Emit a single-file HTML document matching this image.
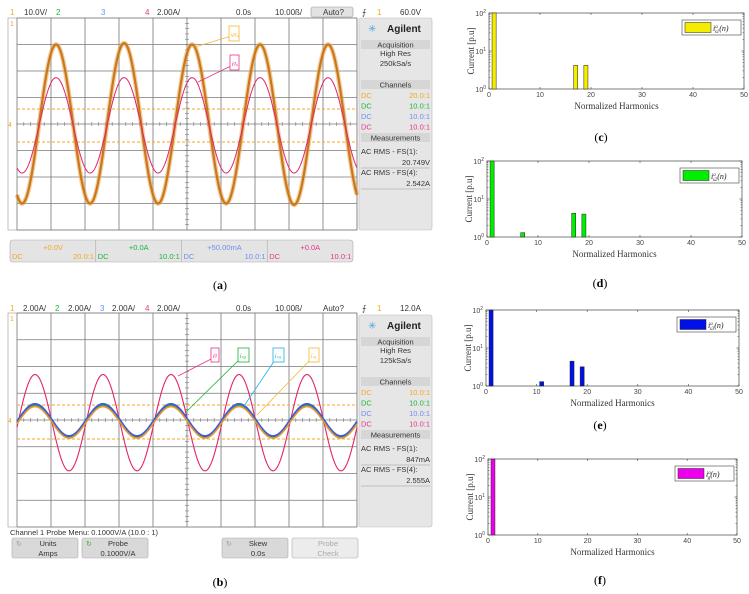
<!DOCTYPE html>
<html><head><meta charset="utf-8"><style>
body{margin:0;background:#fff}
svg{display:block}
text{font-family:"Liberation Sans",sans-serif}
.serif{font-family:"Liberation Serif",serif}
</style></head><body>
<svg id="fig" width="749" height="594" viewBox="0 0 749 594" xmlns="http://www.w3.org/2000/svg">
<rect width="749" height="594" fill="#fff"/>
<g id="scopeA"></g>
<g id="scopeB"></g>
<g id="bars"></g>
</svg>
<script>
// ---- data ----
const scopeTimesA0 = -48.5; // ms, first extremum time (a)
const scopeVoltA = [-30, 30, -30, 30.5, -30, 30, -30, 30, -30.5, 30, -30];
const scopeCurA = [-3.7, 3.5, -3.7, 3.5, -3.7, 3.5, -3.7, 3.5, -3.7, 3.5, -3.7];
const scopeTimesB0 = -54.7;
const scopeGridB = [-3.8, 3.4, -3.8, 3.4, -3.8, 3.4, -3.8, 3.4, -3.8, 3.4, -3.8, 3.4];
const scopeSa1B = [-1.35, 1.0, -1.35, 1.0, -1.35, 1.0, -1.35, 1.0, -1.35, 1.0, -1.35, 1.0];
const scopeSa2B = [-1.3, 1.05, -1.3, 1.05, -1.3, 1.05, -1.3, 1.05, -1.3, 1.05, -1.3, 1.05];
const scopeSa3B = [-1.2, 1.2, -1.2, 1.2, -1.2, 1.2, -1.2, 1.2, -1.2, 1.2, -1.2, 1.2];

const harmC_n = [1, 17, 19];      const harmC_v = [100, 4.2, 4.2];
const harmD_n = [1, 7, 17, 19];   const harmD_v = [100, 1.3, 4.2, 4.0];
const harmE_n = [1, 11, 17, 19];  const harmE_v = [100, 1.3, 4.5, 3.2];
const harmF_n = [1];              const harmF_v = [100];
const xTicks = [0, 10, 20, 30, 40, 50];
const yTickExp = [0, 1, 2];

const NS = "http://www.w3.org/2000/svg";
function el(parent, tag, attrs, txt){
  const e = document.createElementNS(NS, tag);
  for (const k in attrs) e.setAttribute(k, attrs[k]);
  if (txt !== undefined) e.textContent = txt;
  parent.appendChild(e);
  return e;
}

const OR = "#f5a623", GR = "#1bb33a", BL = "#6f8ff0", PK = "#e8348a";

function scope(g, o){
  const L=17, R=357, T=o.top, B=o.bot, cy=(T+B)/2, dx=(R-L)/10, dy=(B-T)/8;
  // header
  const hy = o.hy;
  const hdr = o.header;
  hdr.forEach(h=>{
    const t = el(g,'text',{x:h[0],y:hy,'font-size':8,fill:h[2]||'#333'},h[1]);
    
    
  });
  // display area
  const disp = el(g,'rect',{x:8,y:T,width:R-8,height:B-T,fill:'#fff',stroke:'#999','stroke-width':0.6});
  
  
  for(let i=0;i<=10;i++) el(g,'line',{x1:L+i*dx,y1:T,x2:L+i*dx,y2:B,stroke:'#777','stroke-width':0.8});
  for(let j=0;j<=8;j++) el(g,'line',{x1:L,y1:T+j*dy,x2:R,y2:T+j*dy,stroke:'#777','stroke-width':0.8});
  for(let i=0;i<50;i++){ const x=L+i*dx/5; el(g,'line',{x1:x,y1:cy-2,x2:x,y2:cy+2,stroke:'#777','stroke-width':0.6}); }
  for(let j=0;j<40;j++){ const y=T+j*dy/5; el(g,'line',{x1:187-2,y1:y,x2:187+2,y2:y,stroke:'#777','stroke-width':0.6}); }
  o.dashes.forEach(y=>el(g,'line',{x1:L,y1:y,x2:R,y2:y,stroke:OR,'stroke-width':0.9,'stroke-dasharray':'3,2'}));
  el(g,'text',{x:10,y:T+8,'font-size':7,fill:OR},'1');
  el(g,'text',{x:8,y:cy+3,'font-size':7,fill:OR},'4');
  // traces
  const tx = t => 187 + t/10*dx;
  o.traces.forEach(tr=>{
    let d='';
    for(let px=L; px<=R; px+=0.5){
      const t=(px-187)/dx*10;
      let i=Math.floor((t-o.t0)/10); i=Math.max(0,Math.min(tr.vals.length-2,i));
      const ti=o.t0+i*10, a=tr.vals[i], b=tr.vals[i+1];
      const v=(a+b)/2+(a-b)/2*Math.cos(Math.PI*(t-ti)/10);
      const y=cy - v/tr.scale*dy;
      d+=(d?'L':'M')+px.toFixed(1)+','+y.toFixed(1);
    }
    if(tr.halo){ const h=el(g,'path',{d,fill:'none',stroke:tr.halo,'stroke-width':tr.w+2.5,opacity:0.55});   }
    const p=el(g,'path',{d,fill:'none',stroke:tr.color,'stroke-width':tr.w});
    
    
  });
  // annotations
  o.notes.forEach(n=>{
    el(g,'line',{x1:n.x+4,y1:n.y+n.h/2+2,x2:n.ax,y2:n.ay,stroke:n.c,'stroke-width':0.8});
    const b=el(g,'rect',{x:n.x,y:n.y,width:n.w,height:n.h,fill:'#fff',stroke:n.c,'stroke-width':0.8});
    
    
    el(g,'text',{x:n.x+2,y:n.y+n.h-4,'font-size':6,fill:n.c,'font-style':'italic'},n.t);
  });
  // right panel
  const P=359, PW=73;
  const pnl=el(g,'rect',{x:P,y:o.pTop,width:PW,height:B-o.pTop,fill:'#e6e6e6',stroke:'#bbb','stroke-width':0.6,rx:2});
  
  
  let y=o.pTop;
  el(g,'text',{x:368,y:y+14,'font-size':10,fill:'#4aa8e0'},'✳');
  el(g,'text',{x:387,y:y+14,'font-size':10,'font-weight':'bold',fill:'#222'},'Agilent');
  const sec=(yy,label)=>{ el(g,'rect',{x:P+2,y:yy,width:PW-4,height:9,fill:'#d6d6d6'}); el(g,'text',{x:P+PW/2,y:yy+7.5,'font-size':7.5,'text-anchor':'middle',fill:'#333'},label); };
  sec(o.pTop+22,'Acquisition');
  el(g,'text',{x:P+PW/2,y:o.pTop+38,'font-size':7.5,'text-anchor':'middle',fill:'#333'},'High Res');
  el(g,'text',{x:P+PW/2,y:o.pTop+48,'font-size':7.5,'text-anchor':'middle',fill:'#333'},o.rate);
  sec(o.pTop+62,'Channels');
  const cr=[[OR,o.ratios[0]],[GR,'10.0:1'],[BL,'10.0:1'],[PK,'10.0:1']];
  cr.forEach((c,i)=>{ el(g,'text',{x:361,y:o.pTop+80+i*10.5,'font-size':7.5,fill:c[0]},'DC'); el(g,'text',{x:430,y:o.pTop+80+i*10.5,'font-size':7.5,'text-anchor':'end',fill:c[0]},c[1]); });
  sec(o.pTop+115,'Measurements');
  el(g,'text',{x:361,y:o.pTop+136,'font-size':7.5,fill:'#333'},'AC RMS - FS(1):');
  el(g,'text',{x:430,y:o.pTop+147,'font-size':7.5,'text-anchor':'end',fill:'#333'},o.m1);
  el(g,'text',{x:361,y:o.pTop+157,'font-size':7.5,fill:'#333'},'AC RMS - FS(4):');
  el(g,'text',{x:430,y:o.pTop+168,'font-size':7.5,'text-anchor':'end',fill:'#333'},o.m2);
  el(g,'line',{x1:361,y1:o.pTop+150,x2:430,y2:o.pTop+150,stroke:'#999','stroke-width':0.5});
  el(g,'line',{x1:361,y1:o.pTop+171,x2:430,y2:o.pTop+171,stroke:'#999','stroke-width':0.5});
  // caption
  const cap=el(g,'text',{x:220,y:o.cap,'font-size':12,'text-anchor':'middle',class:'serif',fill:'#000'},'');
  cap.innerHTML='(<tspan font-weight="bold">'+o.letter+'</tspan>)';
  
  
}

// ===== scope (a) =====
const gA=document.getElementById('scopeA');
scope(gA,{top:18,bot:230,hy:15,pTop:18,cap:289,letter:'a',rate:'250kSa/s',ratios:['20.0:1'],m1:'20.749V',m2:'2.542A',
  t0:scopeTimesA0,dashes:[109,142],
  header:[[10,'1',OR],[24,'10.0V/'],[56,'2',GR],[101,'3',BL],[145,'4',PK],[157,'2.00A/'],[236,'0.0s'],[275,'10.00ß/'],[323,'Auto?'],[362,'⨍'],[377,'1',OR],[400,'60.0V']],
  traces:[{name:'voltage-trace-vs',vals:scopeVoltA,scale:10,color:'#c9771a',halo:'#e8a552',w:2.2},
          {name:'current-trace-ig',vals:scopeCurA,scale:2,color:'#e0246e',w:1}],
  notes:[{x:229,y:26,w:10,h:15,c:'#f2b732',t:'vᵍₛ',ax:195,ay:47},{x:230,y:55,w:9,h:15,c:PK,t:'iᵍₛ',ax:198,ay:82}]});
el(gA,'rect',{x:311,y:7,width:42,height:10,fill:'#e2e2e2',stroke:'#999','stroke-width':0.6,rx:2});

gA.appendChild(gA.querySelectorAll('text')[8]);
// bottom bar (a)
const bb=el(gA,'rect',{x:10,y:240,width:343,height:22,fill:'#e4e4e4',stroke:'#aaa','stroke-width':0.6,rx:3});


[[OR,'+0.0V','20.0:1'],[GR,'+0.0A','10.0:1'],[BL,'+50.00mA','10.0:1'],[PK,'+0.0A','10.0:1']].forEach((c,i)=>{
  const x=10+i*85.75;
  if(i) el(gA,'line',{x1:x,y1:240,x2:x,y2:262,stroke:'#aaa','stroke-width':0.6});
  el(gA,'text',{x:x+43,y:250,'font-size':7.5,'text-anchor':'middle',fill:c[0]},c[1]);
  el(gA,'text',{x:x+2,y:259,'font-size':7.5,fill:c[0]},'DC');
  el(gA,'text',{x:x+84,y:259,'font-size':7.5,'text-anchor':'end',fill:c[0]},c[2]);
});

// ===== scope (b) =====
const gB=document.getElementById('scopeB');
scope(gB,{top:313,bot:527,hy:311,pTop:315,cap:586,letter:'b',rate:'125kSa/s',ratios:['10.0:1'],m1:'847mA',m2:'2.555A',
  t0:scopeTimesB0,dashes:[405,439],
  header:[[10,'1',OR],[23,'2.00A/'],[55,'2',GR],[68,'2.00A/'],[100,'3',BL],[112,'2.00A/'],[145,'4',PK],[157,'2.00A/'],[236,'0.0s'],[275,'10.00ß/'],[323,'Auto?'],[362,'⨍'],[377,'1',OR],[400,'12.0A']],
  traces:[{name:'grid-current-trace',vals:scopeGridB,scale:2,color:'#e0246e',w:1.1},
          {name:'sa2-current-trace',vals:scopeSa2B,scale:2,color:'#2aa64a',w:2},
          {name:'sa3-current-trace',vals:scopeSa3B,scale:2,color:'#3c5fd8',w:2},
          {name:'sa1-current-trace',vals:scopeSa1B,scale:2,color:'#e79a2a',w:1.6}],
  notes:[{x:211,y:348,w:8,h:14,c:PK,t:'iᵍ',ax:178,ay:376},{x:238,y:348,w:11,h:14,c:GR,t:'iₛ₂',ax:186,ay:412},
         {x:273,y:348,w:11,h:14,c:'#23b0e0',t:'iₛ₃',ax:244,ay:406},{x:309,y:348,w:10,h:14,c:'#f2b732',t:'iₛ₁',ax:257,ay:415}]});
el(gB,'text',{x:10,y:535,'font-size':7.5,fill:'#333'},'Channel 1 Probe Menu: 0.1000V/A (10.0 : 1)');
[[12,'Units','Amps',1],[82,'Probe','0.1000V/A',1],[222,'Skew','0.0s',1],[292,'Probe','Check',0]].forEach(b=>{
  const r=el(gB,'rect',{x:b[0],y:538,width:66,height:20,fill:b[3]?'#d9d9d9':'#ececec',stroke:'#aaa','stroke-width':0.6,rx:2});
  
  
  const c=b[3]?'#333':'#aaa';
  el(gB,'text',{x:b[0]+36,y:546,'font-size':7.5,'text-anchor':'middle',fill:c},b[1]);
  el(gB,'text',{x:b[0]+36,y:556,'font-size':7.5,'text-anchor':'middle',fill:c},b[2]);
  if(b[3]) el(gB,'text',{x:b[0]+4,y:546,'font-size':7,fill:b[0]==82?'#3a3':'#999'},'↻');
});

// ===== bar charts =====
const gBars=document.getElementById('bars');
function barChart(o){
  const g=el(gBars,'g',{});
  
  
  const xs=n=>o.l+n/50*(o.r-o.l);
  const ys=v=>o.b-Math.log10(v)/2*(o.b-o.t);
  el(g,'rect',{x:o.l,y:o.t,width:o.r-o.l,height:o.b-o.t,fill:'#fff',stroke:'#444','stroke-width':0.7});
  o.ns.forEach((n,i)=>{
    const bar=el(g,'rect',{x:xs(n-0.4),y:ys(o.vs[i]),width:xs(0.8)-xs(0),height:o.b-ys(o.vs[i]),fill:o.c,stroke:'#222','stroke-width':0.5});
    
    
  });
  xTicks.forEach(v=>{
    const x=xs(v);
    el(g,'line',{x1:x,y1:o.b,x2:x,y2:o.b-2,stroke:'#444','stroke-width':0.6});
    el(g,'line',{x1:x,y1:o.t,x2:x,y2:o.t+2,stroke:'#444','stroke-width':0.6});
    el(g,'text',{x:x,y:o.b+8,'font-size':7,'text-anchor':'middle',fill:'#444'},String(v));
  });
  yTickExp.forEach(e=>{
    const y=ys(Math.pow(10,e));
    el(g,'line',{x1:o.l,y1:y,x2:o.l+2.5,y2:y,stroke:'#444','stroke-width':0.6});
    el(g,'line',{x1:o.r,y1:y,x2:o.r-2.5,y2:y,stroke:'#444','stroke-width':0.6});
    const t=el(g,'text',{x:o.l-3,y:y+3,'font-size':7,'text-anchor':'end',fill:'#444'},'');
    t.innerHTML='10<tspan dy="-3" font-size="5">'+e+'</tspan>';
    if(e<2) for(let m=2;m<10;m++){ const yy=ys(m*Math.pow(10,e)); el(g,'line',{x1:o.l,y1:yy,x2:o.l+1.5,y2:yy,stroke:'#444','stroke-width':0.5}); el(g,'line',{x1:o.r,y1:yy,x2:o.r-1.5,y2:yy,stroke:'#444','stroke-width':0.5}); }
  });
  const yl=el(g,'text',{x:0,y:0,'font-size':9,'text-anchor':'middle',class:'serif',fill:'#333',transform:'translate('+(o.l-15)+','+((o.t+o.b)/2)+') rotate(-90)'},'Current [p.u]');
  
  
  const xl=el(g,'text',{x:(o.l+o.r)/2,y:o.b+20,'font-size':9,'text-anchor':'middle',class:'serif',fill:'#333'},'Normalized Harmonics');
  
  
  const lg=el(g,'rect',{x:o.r-62,y:o.t+7,width:59,height:15,fill:'#fff',stroke:'#444','stroke-width':0.6});
  
  
  el(g,'rect',{x:o.r-59,y:o.t+9.5,width:26,height:10,fill:o.c,stroke:'#222','stroke-width':0.5});
  const lt=el(g,'text',{x:o.r-31,y:o.t+18,'font-size':8,class:'serif','font-style':'italic',fill:'#222'},'');
  lt.innerHTML='i<tspan dy="-3" font-size="5">a</tspan><tspan dy="5" dx="-3" font-size="5">'+o.sub+'</tspan><tspan dy="-2">(n)</tspan>';
  const cap=el(g,'text',{x:o.capx,y:o.capy,'font-size':12,'text-anchor':'middle',class:'serif',fill:'#000'},'');
  cap.innerHTML='(<tspan font-weight="bold">'+o.letter+'</tspan>)';
}
barChart({letter:'c',l:489,r:744,t:13,b:89,ns:harmC_n,vs:harmC_v,c:'#f5ec00',sub:'s1',capx:601,capy:141});
barChart({letter:'d',l:487,r:742,t:161,b:237,ns:harmD_n,vs:harmD_v,c:'#00ee00',sub:'s2',capx:600,capy:287});
barChart({letter:'e',l:486,r:739,t:310,b:386,ns:harmE_n,vs:harmE_v,c:'#0010e6',sub:'s3',capx:600,capy:429});
barChart({letter:'f',l:488,r:737,t:459,b:535,ns:harmF_n,vs:harmF_v,c:'#ee00ee',sub:'g',capx:600,capy:584});
</script>
</body></html>
